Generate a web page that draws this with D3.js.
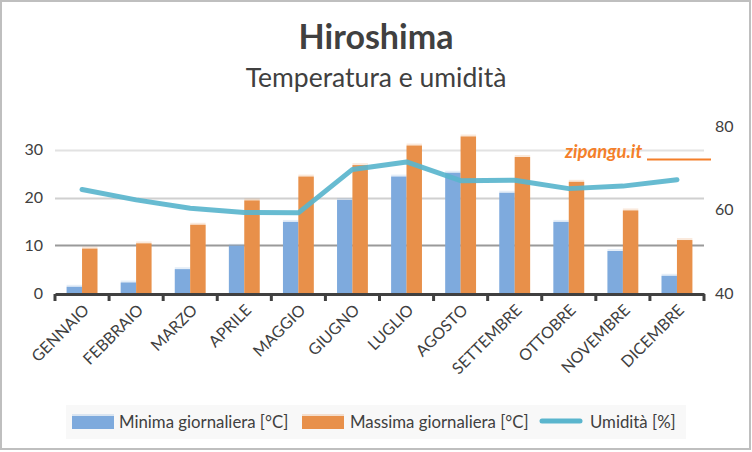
<!DOCTYPE html>
<html>
<head>
<meta charset="utf-8">
<script src="https://cdnjs.cloudflare.com/ajax/libs/d3/7.8.5/d3.min.js"></script>
<style>
  body { margin: 0; background: #fff; }
  text { font-family: Lato, "Open Sans", sans-serif; fill: #404040; }
</style>
</head>
<body>
<div id="chart"></div>
<script>
// chart data
var months = ['GENNAIO','FEBBRAIO','MARZO','APRILE','MAGGIO','GIUGNO','LUGLIO','AGOSTO','SETTEMBRE','OTTOBRE','NOVEMBRE','DICEMBRE'];
var tempMin = [1.3, 2.2, 5.0, 9.9, 14.9, 19.5, 24.4, 25.2, 21.0, 14.9, 8.8, 3.6];
var tempMax = [9.3, 10.4, 14.3, 19.4, 24.4, 26.8, 30.9, 32.8, 28.5, 23.3, 17.3, 11.1];
var humidity = [64.8, 62.3, 60.3, 59.3, 59.2, 69.6, 71.4, 66.9, 67.0, 65.0, 65.6, 67.1];
var leftTicks = [0, 10, 20, 30];
var rightTicks = [40, 60, 80];
var legendLabels = ['Minima giornaliera [°C]', 'Massima giornaliera [°C]', 'Umidità [%]'];

var svgSize = {width: 752, height: 452};
var plot = {left: 55, right: 704, top: 126, bottom: 293};
var colBlue = '#7eaadd', colOrange = '#e8904a', colLine = '#5ab5cd';

var svg = d3.select('#chart').append('svg')
    .attr('width', svgSize.width)
    .attr('height', svgSize.height);

// frame
svg.append('rect')
    .attr('x', 1).attr('y', 1)
    .attr('width', 749).attr('height', 448)
    .attr('fill', '#fff')
    .attr('stroke', '#bfbfbf')
    .attr('stroke-width', 2);

var x = d3.scaleBand()
    .domain(months)
    .range([plot.left, plot.right])
    .paddingInner(0.43)
    .paddingOuter(0.215);

var yL = d3.scaleLinear().domain([0, 35]).range([plot.bottom, plot.top]);
var yR = d3.scaleLinear().domain([40, 80]).range([plot.bottom, plot.top]);

// titles
svg.append('text')
    .attr('x', 376).attr('y', 49)
    .attr('text-anchor', 'middle')
    .style('font-size', '34px').style('font-weight', 'bold')
    .text('Hiroshima');
svg.append('text')
    .attr('x', 376).attr('y', 87)
    .attr('text-anchor', 'middle')
    .style('font-size', '26.5px')
    .text('Temperatura e umidità');

// gridlines
var gridCols = {10: '#9a9a9a', 20: '#d0d0d0', 30: '#e2e2e2'};
svg.append('g').selectAll('line')
    .data(leftTicks.filter(function(d) { return d > 0; }))
    .enter().append('line')
    .attr('x1', plot.left).attr('x2', plot.right)
    .attr('y1', function(d) { return Math.round(yL(d)) + 0.5; })
    .attr('y2', function(d) { return Math.round(yL(d)) + 0.5; })
    .attr('stroke', function(d) { return gridCols[d]; })
    .attr('stroke-width', 2);

// watermark (behind the line)
svg.append('text')
    .attr('x', 565).attr('y', 158)
    .style('font-size', '18.5px').style('font-weight', 'bold').style('font-style', 'italic')
    .style('fill', '#f47f2a')
    .text('zipangu.it');
svg.append('line')
    .attr('x1', 647).attr('x2', 711)
    .attr('y1', 159.5).attr('y2', 159.5)
    .attr('stroke', '#f47f2a').attr('stroke-width', 2);

// bars
var bw = x.bandwidth() / 2;
function drawBars(vals, col, off) {
    var g = svg.append('g');
    g.selectAll('rect.cap')
        .data(vals).enter().append('rect')
        .attr('x', function(d, i) { return x(months[i]) + off; })
        .attr('y', function(d) { return yL(d) - 2; })
        .attr('width', bw)
        .attr('height', function(d) { return yL(0) - yL(d) + 2; })
        .attr('fill', col)
        .attr('opacity', 0.2);
    g.selectAll('rect.bar')
        .data(vals).enter().append('rect')
        .attr('x', function(d, i) { return x(months[i]) + off; })
        .attr('y', function(d) { return yL(d); })
        .attr('width', bw)
        .attr('height', function(d) { return yL(0) - yL(d); })
        .attr('fill', col);
}
drawBars(tempMin, colBlue, 0);
drawBars(tempMax, colOrange, bw);

// x axis
var xAxis = svg.append('g')
    .attr('transform', 'translate(0,' + (plot.bottom + 1) + ')')
    .call(d3.axisBottom(x).tickSize(0).tickSizeOuter(0));
xAxis.select('.domain').attr('stroke', '#404040').attr('stroke-width', 3);
var step = x.step();
xAxis.append('g').selectAll('line')
    .data(d3.range(months.length + 1))
    .enter().append('line')
    .attr('x1', function(i) { return plot.left + i * step; })
    .attr('x2', function(i) { return plot.left + i * step; })
    .attr('y1', 0).attr('y2', 7)
    .attr('stroke', '#404040').attr('stroke-width', 3);
xAxis.selectAll('.tick text')
    .style('font-size', '16px')
    .attr('fill', '#404040')
    .attr('text-anchor', 'end')
    .attr('dy', 0)
    .attr('transform', 'translate(6,15) rotate(-45)');

// left axis
var yAxisL = svg.append('g')
    .attr('transform', 'translate(' + plot.left + ',0)')
    .call(d3.axisLeft(yL).tickValues(leftTicks).tickSize(0).tickPadding(12));
yAxisL.select('.domain').remove();
yAxisL.selectAll('text').style('font-size', '16px').attr('fill', '#404040');

// right axis
var yAxisR = svg.append('g')
    .attr('transform', 'translate(' + plot.right + ',0)')
    .call(d3.axisRight(yR).tickValues(rightTicks).tickSize(0).tickPadding(11));
yAxisR.select('.domain').remove();
yAxisR.selectAll('text').style('font-size', '16px').attr('fill', '#404040');

// humidity line
var line = d3.line()
    .x(function(d, i) { return x(months[i]) + x.bandwidth() / 2; })
    .y(function(d) { return yR(d); });
svg.append('path')
    .datum(humidity)
    .attr('fill', 'none')
    .attr('stroke', colLine)
    .attr('stroke-opacity', 0.92)
    .attr('stroke-width', 5)
    .attr('stroke-linejoin', 'round')
    .attr('stroke-linecap', 'round')
    .attr('d', line);

// legend
var lg = svg.append('g');
lg.append('rect')
    .attr('x', 66).attr('y', 405)
    .attr('width', 620).attr('height', 34)
    .attr('fill', '#f8f8f8');
var legendItems = [
    {x: 72, type: 'bar', col: colBlue, tx: 119},
    {x: 302, type: 'bar', col: colOrange, tx: 350},
    {x: 540, type: 'line', col: colLine, tx: 590}
];
legendItems.forEach(function(it, i) {
    if (it.type === 'bar') {
        lg.append('rect').attr('x', it.x).attr('y', 414)
            .attr('width', 42).attr('height', 2)
            .attr('fill', it.col).attr('opacity', 0.25);
        lg.append('rect').attr('x', it.x).attr('y', 416)
            .attr('width', 42).attr('height', 13)
            .attr('fill', it.col);
    } else {
        lg.append('line').attr('x1', it.x + 2).attr('x2', it.x + 40)
            .attr('y1', 421).attr('y2', 421)
            .attr('stroke', it.col).attr('stroke-width', 5)
            .attr('stroke-linecap', 'round');
    }
    lg.append('text')
        .attr('x', it.tx).attr('y', 428)
        .style('font-size', '16.8px')
        .text(legendLabels[i]);
});
</script>
</body>
</html>
